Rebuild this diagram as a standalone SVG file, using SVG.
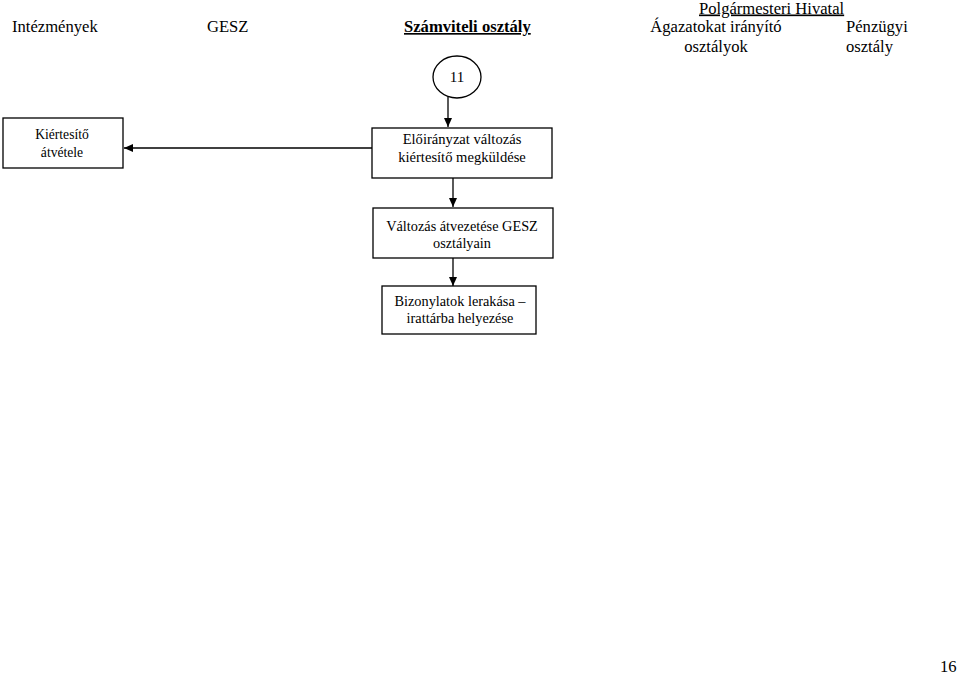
<svg xmlns="http://www.w3.org/2000/svg" width="960" height="675" viewBox="0 0 960 675">
<style>
text{font-family:"Liberation Serif","Times New Roman",serif;fill:#000}
.h{font-size:16.6px}
.n{font-size:14.3px;text-anchor:middle}
.box{fill:#fff;stroke:#000;stroke-width:1.3}
.c{fill:none;stroke:#000;stroke-width:1.3}
</style>
<defs>
<marker id="ah" markerWidth="10" markerHeight="10" refX="9" refY="5" orient="auto" markerUnits="userSpaceOnUse">
<path d="M0,1 L9,5 L0,9 Z" fill="#000"/>
</marker>
</defs>
<rect width="960" height="675" fill="#fff"/>
<g id="headers">
<text class="h" x="12" y="32">Intézmények</text>
<text class="h" x="207" y="32">GESZ</text>
<text class="h" x="404" y="32" font-weight="bold" text-decoration="underline">Számviteli osztály</text>
<text class="h" x="699" y="13.5" text-decoration="underline">Polgármesteri Hivatal</text>
<text class="h" x="716" y="32" text-anchor="middle">Ágazatokat irányító</text>
<text class="h" x="716" y="52" text-anchor="middle">osztályok</text>
<text class="h" x="846" y="32">Pénzügyi</text>
<text class="h" x="846" y="52">osztály</text>
</g>
<g id="connectors">
<line class="c" x1="448" y1="97" x2="448" y2="127" marker-end="url(#ah)"/>
<line class="c" x1="372" y1="148" x2="124" y2="148" marker-end="url(#ah)"/>
<line class="c" x1="453" y1="178" x2="453" y2="207" marker-end="url(#ah)"/>
<line class="c" x1="453" y1="258" x2="453" y2="286" marker-end="url(#ah)"/>
</g>
<g id="n11">
<ellipse class="box" cx="457" cy="77" rx="24" ry="21"/>
<text class="n" x="457" y="82" style="font-size:15px">11</text>
</g>
<g id="kiertesito">
<rect class="box" x="3" y="118" width="120" height="50"/>
<text class="n" x="62" y="139" style="font-size:13.6px">Kiértesítő</text>
<text class="n" x="62" y="157" style="font-size:13.6px">átvétele</text>
</g>
<g id="eloiranyzat">
<rect class="box" x="372" y="128" width="180" height="50"/>
<text class="n" x="462" y="144" style="font-size:14.6px">Előirányzat változás</text>
<text class="n" x="462" y="162" style="font-size:14.6px">kiértesítő megküldése</text>
</g>
<g id="valtozas">
<rect class="box" x="373" y="208" width="180" height="50"/>
<text class="n" x="462" y="231">Változás átvezetése GESZ</text>
<text class="n" x="462" y="248">osztályain</text>
</g>
<g id="bizonylatok">
<rect class="box" x="382" y="286" width="154" height="48"/>
<text class="n" x="460" y="306">Bizonylatok lerakása –</text>
<text class="n" x="460" y="323">irattárba helyezése</text>
</g>
<text class="h" x="940" y="672">16</text>
</svg>
